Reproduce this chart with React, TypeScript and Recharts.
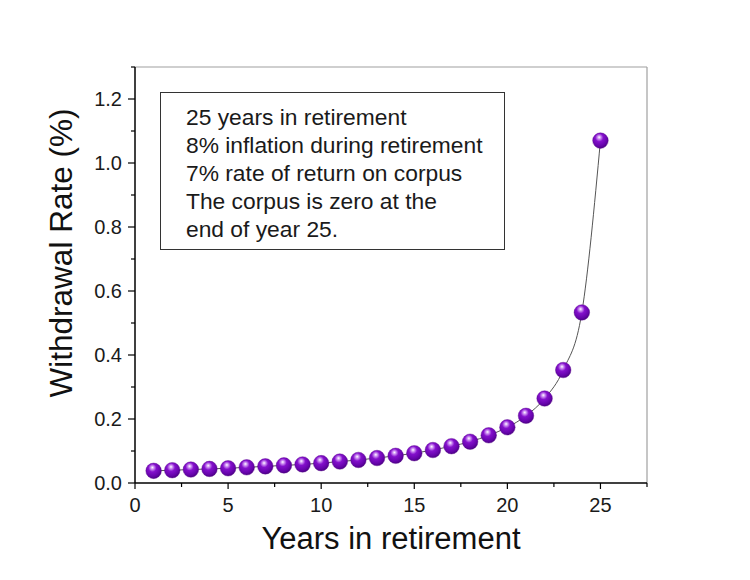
import React from "react";
import { LineChart, Line, XAxis, YAxis, ReferenceLine, Label } from "recharts";

const years = [1, 2, 3, 4, 5, 6, 7, 8, 9, 10, 11, 12, 13, 14, 15, 16, 17, 18, 19, 20, 21, 22, 23, 24, 25];
const withdrawalRate = [
  0.038, 0.04, 0.042, 0.044, 0.046, 0.049, 0.052, 0.055, 0.058, 0.062, 0.067, 0.072, 0.078,
  0.085, 0.093, 0.103, 0.115, 0.129, 0.149, 0.174, 0.21, 0.264, 0.353, 0.533, 1.07,
];
const xTicks = [0, 2.5, 5, 7.5, 10, 12.5, 15, 17.5, 20, 22.5, 25, 27.5];
const yTicks = [0, 0.1, 0.2, 0.3, 0.4, 0.5, 0.6, 0.7, 0.8, 0.9, 1.0, 1.1, 1.2, 1.3];
const noteLines = [
  "25 years in retirement",
  "8% inflation during retirement",
  "7% rate of return on corpus",
  "The corpus is zero at the",
  "end of year 25.",
];

const data = years.map((year, i) => ({ year, rate: withdrawalRate[i] }));

const FONT = "'Liberation Sans', Arial, sans-serif";

function YTick(props: any) {
  const { x, y, payload } = props;
  const major = Math.round(payload.value * 10) % 2 === 0;
  return (
    <g>
      <line x1={x} x2={x - (major ? 7 : 4)} y1={y} y2={y} stroke="#000" strokeWidth={1.2} />
      {major && (
        <text x={x - 13} y={y} dy="0.36em" textAnchor="end" fontSize={20} fill="#1a1a1a" fontFamily={FONT}>
          {payload.value.toFixed(1)}
        </text>
      )}
    </g>
  );
}

function XTick(props: any) {
  const { x, y, payload } = props;
  const major = payload.value % 5 === 0;
  return (
    <g>
      <line x1={x} x2={x} y1={y} y2={y + (major ? 6 : 4)} stroke="#000" strokeWidth={1.2} />
      {major && (
        <text x={x} y={y + 28.5} textAnchor="middle" fontSize={20} fill="#1a1a1a" fontFamily={FONT}>
          {payload.value}
        </text>
      )}
    </g>
  );
}

function Sphere(props: any) {
  const { cx, cy } = props;
  if (cx == null || cy == null) return <g />;
  return <circle cx={cx} cy={cy} r={7.8} fill="url(#sphereGrad)" stroke="#5a0a8a" strokeWidth={0.4} />;
}

export default function App() {
  return (
    <div style={{ position: "absolute", left: 0, top: 0, width: 750, height: 580, background: "#fff" }}>
      <LineChart width={750} height={580} data={data} margin={{ top: 67, right: 103, bottom: 0, left: 35 }}>
        <defs>
          <radialGradient id="sphereGrad" cx="0.42" cy="0.36" r="0.68" fx="0.42" fy="0.28">
            <stop offset="0%" stopColor="#ffffff" />
            <stop offset="14%" stopColor="#d39cf5" />
            <stop offset="38%" stopColor="#8410cc" />
            <stop offset="75%" stopColor="#6604ab" />
            <stop offset="100%" stopColor="#46007c" />
          </radialGradient>
        </defs>
        <XAxis
          type="number"
          dataKey="year"
          domain={[0, 27.5]}
          ticks={xTicks}
          interval={0}
          height={97}
          tickSize={0}
          tickMargin={0}
          tickLine={false}
          tick={<XTick />}
          axisLine={{ stroke: "#000", strokeWidth: 1.5 }}
        >
          <Label
            content={() => (
              <text x={391} y={549} textAnchor="middle" fontSize={31} fill="#111" fontFamily={FONT}>
                Years in retirement
              </text>
            )}
          />
        </XAxis>
        <YAxis
          type="number"
          domain={[0, 1.3]}
          ticks={yTicks}
          interval={0}
          width={100}
          tickSize={0}
          tickMargin={0}
          tickLine={false}
          tick={<YTick />}
          axisLine={{ stroke: "#000", strokeWidth: 1.5 }}
        >
          <Label
            content={() => (
              <text
                x={72}
                y={253}
                transform="rotate(-90 72 253)"
                textAnchor="middle"
                fontSize={31.5}
                fill="#111"
                fontFamily={FONT}
              >
                Withdrawal Rate (%)
              </text>
            )}
          />
        </YAxis>
        <ReferenceLine y={1.3} stroke="#a0a0a0" strokeWidth={1.2} />
        <ReferenceLine x={27.5} stroke="#a0a0a0" strokeWidth={1.2} />
        <Line
          type="monotone"
          dataKey="rate"
          stroke="#555"
          strokeWidth={1}
          dot={<Sphere />}
          activeDot={false}
          isAnimationActive={false}
        />
      </LineChart>
      <div
        style={{
          position: "absolute",
          left: 160,
          top: 92,
          width: 345,
          height: 158,
          boxSizing: "border-box",
          border: "1.2px solid #333",
          background: "#fff",
          paddingTop: 10,
          paddingLeft: 25,
          fontFamily: FONT,
          fontSize: 22.8,
          lineHeight: "28px",
          color: "#1a1a1a",
          whiteSpace: "nowrap",
        }}
      >
        {noteLines.map((t) => (
          <div key={t}>{t}</div>
        ))}
      </div>
    </div>
  );
}
